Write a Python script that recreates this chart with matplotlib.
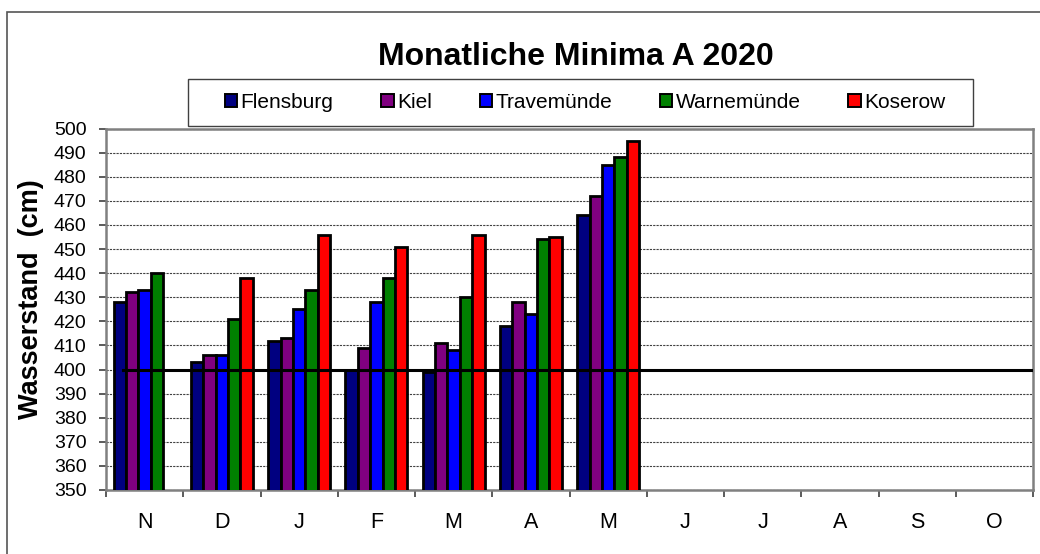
import numpy as np
import matplotlib
matplotlib.use("Agg")
import matplotlib.pyplot as plt
from matplotlib.patches import Rectangle, Patch

plt.rcParams['font.family'] = ['Liberation Sans', 'DejaVu Sans']

months = ['N', 'D', 'J', 'F', 'M', 'A', 'M', 'J', 'J', 'A', 'S', 'O']
nan = np.nan
flensburg = [428, 403, 412, 400, 399, 418, 464, nan, nan, nan, nan, nan]
kiel = [432, 406, 413, 409, 411, 428, 472, nan, nan, nan, nan, nan]
travemuende = [433, 406, 425, 428, 408, 423, 485, nan, nan, nan, nan, nan]
warnemuende = [440, 421, 433, 438, 430, 454, 488, nan, nan, nan, nan, nan]
koserow = [nan, 438, 456, 451, 456, 455, 495, nan, nan, nan, nan, nan]
reference_level = 400

stations = ['Flensburg', 'Kiel', 'Travemünde', 'Warnemünde', 'Koserow']
series = [flensburg, kiel, travemuende, warnemuende, koserow]
colors = ['#000080', '#800080', '#0000FF', '#008000', '#FF0000']

fig = plt.figure(figsize=(10.4, 5.54), dpi=100)
ax = fig.add_axes([106 / 1040, 1 - 490 / 554, 927 / 1040, 361.5 / 554])

x = np.arange(len(months))
width = 0.16
for i, (name, vals, col) in enumerate(zip(stations, series, colors)):
    ax.bar(x + (i - 2) * width, vals, width, color=col, edgecolor='black',
           linewidth=2.0, label=name, zorder=3)

ax.axhline(reference_level, xmin=17 / 927, xmax=1, color='black', lw=2.2, zorder=4)

ax.set_xlim(-0.5, len(months) - 0.5)
ax.set_ylim(350, 500)
ax.set_yticks(np.arange(350, 501, 10))
ax.set_xticks(x)
ax.set_xticklabels(months)
ax.set_xticks(np.arange(-0.5, len(months), 1), minor=True)
ax.tick_params(axis='x', which='major', length=0, pad=16, labelsize=15.5)
ax.tick_params(axis='x', which='minor', length=5, width=1.2, color='#404040', direction='out')
ax.tick_params(axis='y', length=5, width=1.2, color='#404040', direction='out', pad=9, labelsize=14)

ax.grid(axis='y', linestyle=(0, (2, 1)), color='#404040', lw=0.8, zorder=1)
for s in ax.spines.values():
    s.set_color('#808080')
    s.set_linewidth(1.8)

fig.text(31 / 1040, 1 - 299 / 554, 'Wasserstand  (cm)', rotation=90, ha='center',
         va='center', fontsize=19.5, fontweight='bold')
fig.text(576 / 1040, 1 - 57 / 554, 'Monatliche Minima A 2020', ha='center', va='center',
         fontsize=23, fontweight='bold')

# legend box
fig.patches.append(Rectangle((188 / 1040, 1 - 126 / 554), 785 / 1040, 47 / 554,
                             transform=fig.transFigure, facecolor='white',
                             edgecolor='#404040', lw=1.0))
handles = [Patch(facecolor=c, edgecolor='black', lw=1.4) for c in colors]
fig.legend(handles, stations, loc='center', bbox_to_anchor=(585 / 1040, 1 - 102.5 / 554),
           ncol=5, frameon=False, fontsize=15, handlelength=0.6, handleheight=0.6,
           handletextpad=0.15, columnspacing=2.3)

# outer chart border
fig.patches.append(Rectangle((7 / 1040, -0.1), 1.2, 1.1 - 12 / 554,
                             transform=fig.transFigure, facecolor='none',
                             edgecolor='#555555', lw=1.2))

fig.savefig('out.png', dpi=100)
